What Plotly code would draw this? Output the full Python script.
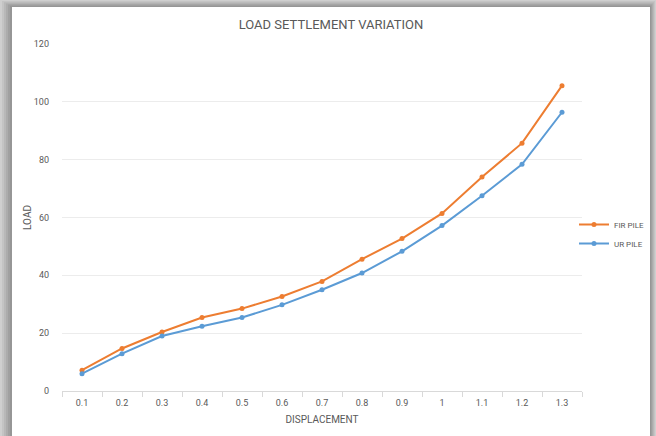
import plotly.graph_objects as go

categories = ["0.1", "0.2", "0.3", "0.4", "0.5", "0.6", "0.7", "0.8", "0.9", "1", "1.1", "1.2", "1.3"]
fir_pile = [7.2, 14.7, 20.4, 25.4, 28.5, 32.7, 37.9, 45.6, 52.7, 61.4, 74.0, 85.7, 105.6]
ur_pile = [6.0, 12.9, 19.0, 22.4, 25.4, 29.8, 35.0, 40.8, 48.3, 57.2, 67.5, 78.4, 96.4]
y_ticks = [0, 20, 40, 60, 80, 100, 120]

FONT = "Roboto, Open Sans, sans-serif"
TXT = "#595959"

fig = go.Figure()
fig.add_trace(go.Scatter(x=categories, y=fir_pile, name="FIR PILE", mode="lines+markers",
                         line=dict(color="#ED7D31", width=2), marker=dict(size=5, color="#ED7D31")))
fig.add_trace(go.Scatter(x=categories, y=ur_pile, name="UR PILE", mode="lines+markers",
                         line=dict(color="#5B9BD5", width=2), marker=dict(size=5, color="#5B9BD5")))

# shadow frame (paper coords relative to plot area 62..582 x, 44..391 y)
W, H = 520.0, 347.0
def px(x):
    return (x - 62) / W
def py(y):
    return (391 - y) / H

shapes = []
shades = ["#c4c4c4", "#b8b8b8", "#acacac", "#a0a0a0", "#969696"]
for i, c in enumerate(shades):
    d = 2 * (len(shades) - i)
    shapes.append(dict(type="rect", xref="paper", yref="paper", layer="below",
                       x0=px(12 - d), x1=px(650 + d * 0.5), y0=py(450), y1=py(7 - d * 0.6),
                       line=dict(width=0), fillcolor=c))
shapes.append(dict(type="rect", xref="paper", yref="paper", layer="below",
                   x0=px(12), x1=px(650), y0=py(450), y1=py(7),
                   line=dict(width=0), fillcolor="white"))

fig.update_layout(
    width=656, height=436,
    margin=dict(l=62, r=74, t=44, b=45, autoexpand=False),
    paper_bgcolor="#cfcfcf",
    plot_bgcolor="white",
    shapes=shapes,
    title=dict(text="LOAD SETTLEMENT VARIATION", x=331 / 656, xanchor="center",
               y=1 - 24 / 436, yanchor="middle",
               font=dict(family=FONT, size=13, color=TXT)),
    font=dict(family=FONT, size=9, color=TXT),
    showlegend=True,
    legend=dict(xref="container", yref="container", x=574 / 656, y=1 - 234 / 436,
                xanchor="left", yanchor="middle",
                bgcolor="rgba(0,0,0,0)", font=dict(size=8, color=TXT),
                itemwidth=30, tracegroupgap=2),
    xaxis=dict(type="category", range=[-0.5, 12.5], showgrid=False,
               showline=True, linecolor="#d9d9d9", linewidth=1,
               ticks="outside", tickson="boundaries", ticklen=5, tickcolor="#d9d9d9",
               tickfont=dict(size=9, color=TXT), ticklabelstandoff=3,
               title=dict(text="DISPLACEMENT", font=dict(size=10, color=TXT), standoff=9)),
    yaxis=dict(range=[0, 120], tickvals=y_ticks, showgrid=True, gridcolor="#ececec",
               zeroline=False, showline=False, ticks="", ticklabelstandoff=12,
               tickfont=dict(size=9, color=TXT),
               title=dict(text="LOAD", font=dict(size=10, color=TXT), standoff=0)),
)

fig.write_html("out.html", config={"displayModeBar": False},
               post_script="document.body.style.margin='0';document.documentElement.style.overflow='hidden';")
